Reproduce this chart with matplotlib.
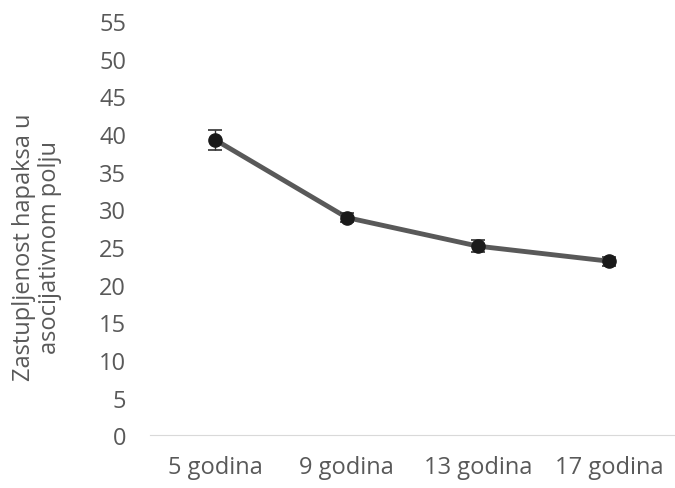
import matplotlib.pyplot as plt

groups = ["5 godina", "9 godina", "13 godina", "17 godina"]
values = [39.2, 28.9, 25.1, 23.1]
errors = [1.3, 0.6, 0.8, 0.6]

plt.rcParams['font.family'] = ['Open Sans', 'DejaVu Sans']
text_color = "#595959"

fig = plt.figure(figsize=(6.75, 4.89), dpi=100)
ax = fig.add_axes([0.222, 0.108, 0.778, 0.847])

x = range(len(groups))
ax.plot(x, values, color="#595959", linewidth=3.5, zorder=2)
ax.errorbar(x, values, yerr=errors, fmt='o', color="#1a1a1a", markersize=9.5,
            ecolor="#333333", elinewidth=1.0, capsize=5, capthick=1.2, zorder=3)

ax.set_xlim(-0.5, 3.5)
ax.set_ylim(0, 55)
ax.set_yticks(range(0, 56, 5))
ax.set_xticks(list(x))
ax.set_xticklabels(groups)

for side in ["top", "right", "left"]:
    ax.spines[side].set_visible(False)
ax.spines["bottom"].set_color("#d9d9d9")
ax.tick_params(axis="both", length=0, labelsize=17, colors=text_color)
ax.tick_params(axis="x", pad=14)
ax.tick_params(axis="y", pad=17)

ax.set_ylabel("Zastupljenost hapaksa u\nasocijativnom polju", fontsize=17,
              color=text_color, linespacing=1.1)
ax.yaxis.set_label_coords(-0.168, 0.455)

fig.savefig("out.png", dpi=100)
